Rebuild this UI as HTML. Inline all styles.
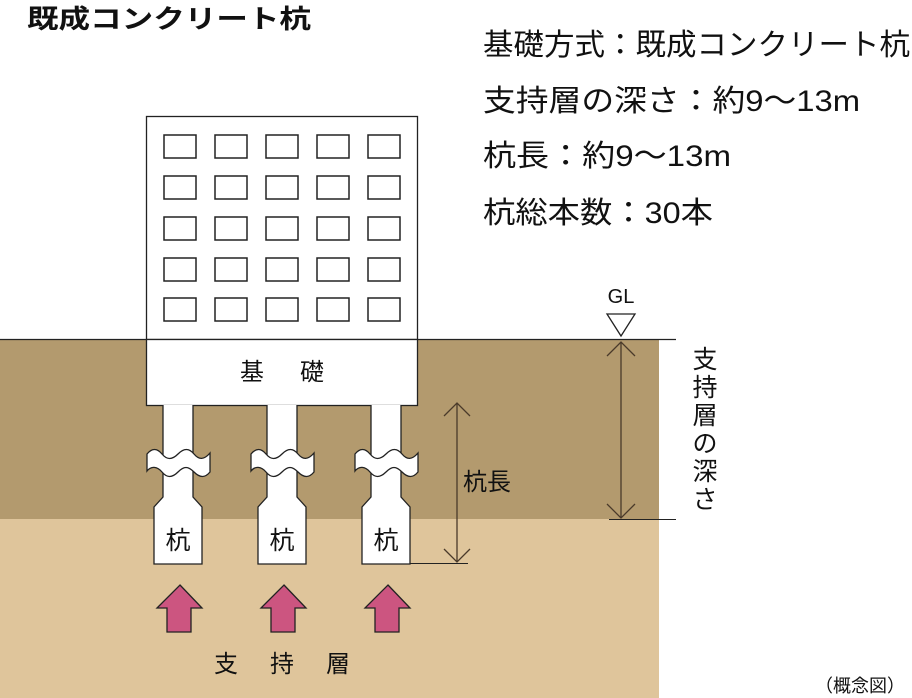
<!DOCTYPE html>
<html><head><meta charset="utf-8"><style>html,body{margin:0;padding:0;background:#fff}svg{display:block}</style></head>
<body>
<svg width="912" height="698" viewBox="0 0 912 698" xmlns="http://www.w3.org/2000/svg" font-family="'Liberation Sans','Noto Sans CJK JP',sans-serif">
<rect x="0" y="339" width="659" height="180" fill="#b39a6e"/>
<rect x="0" y="519" width="659" height="179" fill="#dfc59b"/>
<line x1="0" y1="339.5" x2="676" y2="339.5" stroke="#222" stroke-width="1.3"/>
<line x1="609" y1="519.5" x2="676" y2="519.5" stroke="#222" stroke-width="1"/>
<line x1="410" y1="563.5" x2="468" y2="563.5" stroke="#222" stroke-width="1"/>
<rect x="146.5" y="116.5" width="271" height="223" fill="#fff" stroke="#222" stroke-width="1.3"/>
<g fill="none" stroke="#222" stroke-width="1.5">
<rect x="164" y="135" width="32" height="23"/><rect x="215" y="135" width="32" height="23"/><rect x="266" y="135" width="32" height="23"/><rect x="317" y="135" width="32" height="23"/><rect x="368" y="135" width="32" height="23"/>
<rect x="164" y="176" width="32" height="23"/><rect x="215" y="176" width="32" height="23"/><rect x="266" y="176" width="32" height="23"/><rect x="317" y="176" width="32" height="23"/><rect x="368" y="176" width="32" height="23"/>
<rect x="164" y="217" width="32" height="23"/><rect x="215" y="217" width="32" height="23"/><rect x="266" y="217" width="32" height="23"/><rect x="317" y="217" width="32" height="23"/><rect x="368" y="217" width="32" height="23"/>
<rect x="164" y="258" width="32" height="23"/><rect x="215" y="258" width="32" height="23"/><rect x="266" y="258" width="32" height="23"/><rect x="317" y="258" width="32" height="23"/><rect x="368" y="258" width="32" height="23"/>
<rect x="164" y="298" width="32" height="23"/><rect x="215" y="298" width="32" height="23"/><rect x="266" y="298" width="32" height="23"/><rect x="317" y="298" width="32" height="23"/><rect x="368" y="298" width="32" height="23"/>
</g>
<rect x="146.5" y="339.5" width="271" height="66" fill="#fff" stroke="#222" stroke-width="1.3"/>
<text x="240" y="380" font-size="24" fill="#111">基</text>
<text x="300" y="380" font-size="24" fill="#111">礎</text>
<g id="p1" stroke="#222" stroke-width="1.3" fill="#fff">
<path d="M163,405 V497 L154,507 V564 H202 V507 L193,497 V405"/>
<path d="M147,454 C152,448 157,448 162,454 S172,460 178,454 S189,448 194,454 S204,460 210,453 V472 C205,478 200,478 194,472 S184,466 178,472 S167,478 162,472 S151,466 147,471 Z"/>
</g>
<use href="#p1" x="104"/>
<use href="#p1" x="208"/>
<rect x="164" y="406" width="28" height="6" fill="#fff"/>
<rect x="268" y="406" width="28" height="6" fill="#fff"/>
<rect x="372" y="406" width="28" height="6" fill="#fff"/>
<text x="178" y="549" font-size="25" text-anchor="middle" fill="#111">杭</text>
<text x="282" y="549" font-size="25" text-anchor="middle" fill="#111">杭</text>
<text x="386" y="549" font-size="25" text-anchor="middle" fill="#111">杭</text>
<g id="a1" fill="#cc5580" stroke="#222" stroke-width="1.3">
<path d="M180,585 L202,608 H191 V632 H167 V608 H157 Z"/>
</g>
<use href="#a1" x="104"/>
<use href="#a1" x="208"/>
<text x="214" y="672" font-size="24" fill="#111">支</text>
<text x="270" y="672" font-size="24" fill="#111">持</text>
<text x="326" y="672" font-size="24" fill="#111">層</text>
<g stroke="#4a3a2a" stroke-width="1.3" fill="none">
<line x1="457" y1="403" x2="457" y2="562"/>
<path d="M444,416 L457,403 L470,416"/><path d="M444,549 L457,562 L470,549"/>
<line x1="621" y1="342" x2="621" y2="518"/>
<path d="M607,356 L621,342 L635,356"/><path d="M607,504 L621,518 L635,504"/>
</g>
<text x="463" y="490" font-size="24" fill="#111">杭長</text>
<path d="M607,314 H635 L621,336 Z" fill="none" stroke="#222" stroke-width="1.3"/>
<text x="621" y="303" font-size="20" text-anchor="middle" fill="#111">GL</text>
<g font-size="25" fill="#111" text-anchor="middle">
<text x="705" y="368">支</text><text x="705" y="396">持</text><text x="705" y="424">層</text><text x="705" y="452">の</text><text x="705" y="480">深</text><text x="705" y="508">さ</text>
</g>
<text x="27" y="28" font-size="26" font-weight="bold" fill="#111" textLength="284" lengthAdjust="spacingAndGlyphs">既成コンクリート杭</text>
<g font-size="30" fill="#111">
<text x="483" y="55" textLength="427" lengthAdjust="spacingAndGlyphs">基礎方式：既成コンクリート杭</text>
<text x="483" y="111" textLength="377" lengthAdjust="spacingAndGlyphs">支持層の深さ：約9～13m</text>
<text x="483" y="166" textLength="248" lengthAdjust="spacingAndGlyphs">杭長：約9～13m</text>
<text x="483" y="223" textLength="230" lengthAdjust="spacingAndGlyphs">杭総本数：30本</text>
</g>
<text x="815" y="692" font-size="18" fill="#111">（概念図）</text>
</svg>
</body></html>
